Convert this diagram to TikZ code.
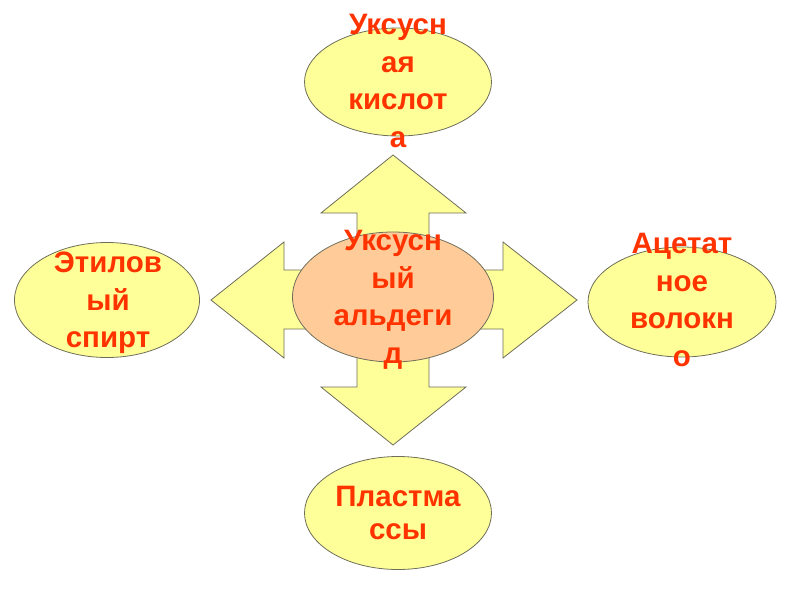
\documentclass[tikz,border=0pt]{standalone}
\usepackage{fontspec}
\setmainfont{Liberation Sans}
\usetikzlibrary{shapes.geometric}
\definecolor{lemon}{RGB}{255,255,153}
\definecolor{peach}{RGB}{255,204,153}
\definecolor{rim}{RGB}{110,110,90}
\definecolor{flame}{RGB}{255,51,0}

\begin{document}
\begin{tikzpicture}[x=1pt, y=-1pt]
  \tikzset{
    blob/.style={ellipse, draw=rim, line width=0.8pt, fill=lemon, inner sep=0pt},
    word/.style={text=flame, align=center, font=\fontsize{29.5}{37.5}\selectfont\bfseries},
    cross/.style={draw=rim, line width=0.8pt, fill=lemon}}

  \useasboundingbox (0,0) rectangle (800,600);

  % --- the four-way arrow behind the hub
  \draw[cross] (393,155) -- (466,213) -- (429,213) -- (429,270) -- (503,270)
    -- (503,242) -- (577,300) -- (503,358) -- (503,329) -- (429,329)
    -- (429,387) -- (466,387) -- (393,445) -- (321,387) -- (357,387)
    -- (357,329) -- (284,329) -- (284,358) -- (211,300) -- (284,242)
    -- (284,270) -- (357,270) -- (357,213) -- (321,213) -- cycle;

  % --- the ellipses
  \node[blob, minimum width=187pt, minimum height=108pt] (acid) at (398,82) {};
  \node[blob, minimum width=185pt, minimum height=115pt] (ethanol) at (107,300) {};
  \node[blob, minimum width=188pt, minimum height=110pt] (fibre) at (682,302) {};
  \node[blob, minimum width=187pt, minimum height=113pt] (plastic) at (398,513) {};
  \node[blob, fill=peach, minimum width=201pt, minimum height=130pt] (aldehyde) at (393,297) {};

  % --- their texts
  \node[word] (acidtxt) at (398,81) {Уксусн\\ая\\кислот\\а};
  \node[word] (ethanoltxt) at (108,303) {Этилов\\ый\\спирт};
  \node[word] (fibretxt) at (682,300) {Ацетат\\ное\\волокн\\о};
  \node[word, font=\fontsize{29.5}{33}\selectfont\bfseries] (plastictxt) at (398,513) {Пластма\\ссы};
  \node[word] (aldehydetxt) at (393,300) {Уксусн\\ый\\альдеги\\д};
\end{tikzpicture}
\end{document}
